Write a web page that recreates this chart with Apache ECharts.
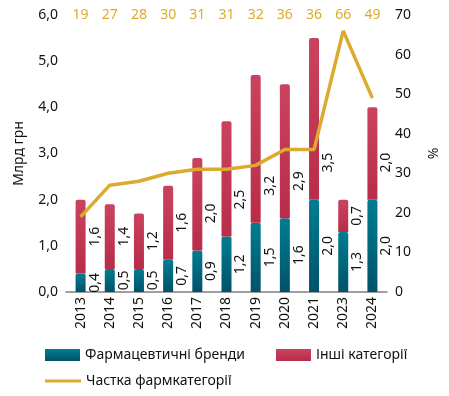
<!DOCTYPE html>
<html><head><meta charset="utf-8">
<script src="https://cdn.jsdelivr.net/npm/echarts@6/dist/echarts.min.js"></script>
<style>html,body{margin:0;padding:0;background:#fff}#c{width:449px;height:396px}</style>
</head><body><div id="c"></div>
<script>
const years = ['2013','2014','2015','2016','2017','2018','2019','2020','2021','2023','2024'];
const pharmaBrands = [0.4,0.5,0.5,0.7,0.9,1.2,1.5,1.6,2.0,1.3,2.0];
const otherCategories = [1.6,1.4,1.2,1.6,2.0,2.5,3.2,2.9,3.5,0.7,2.0];
const pharmaShare = [19,27,28,30,31,31,32,36,36,66,49];
const leftTicks = {min:0,max:6,interval:1};
const rightTicks = {min:0,max:70,interval:10};

const FONT = 'Noto Sans';
const fmt = v => Number(v).toFixed(1).replace('.', ',');
const chart = echarts.init(document.getElementById('c'));
const teal = new echarts.graphic.LinearGradient(0,0,0,1,[{offset:0,color:'#007d92'},{offset:1,color:'#005269'}]);
const red = new echarts.graphic.LinearGradient(0,0,0,1,[{offset:0,color:'#c9435f'},{offset:1,color:'#b92c4a'}]);
const gold = '#dcaa2e';
const lblBase = {show:true,position:'right',distance:2,rotate:90,align:'center',verticalAlign:'top',
  color:'#111',fontSize:14,fontFamily:FONT,formatter:p=>fmt(p.value)};

function build(otherOffsets){
  return {
    animation:false,
    textStyle:{fontFamily:FONT},
    grid:{left:66,right:59,top:15,bottom:104,containLabel:false},
    legend:[
      {data:['Фармацевтичні бренди','Інші категорії'],left:45,top:348,padding:0,itemGap:31,
       icon:'rect',itemWidth:35,itemHeight:12,textStyle:{fontSize:14,fontFamily:FONT,color:'#111'}},
      {data:['Частка фармкатегорії'],left:45,top:374,padding:0,icon:'rect',itemWidth:36,itemHeight:3,
       textStyle:{fontSize:14,fontFamily:FONT,color:'#111'}}
    ],
    xAxis:[
      {type:'category',data:years,axisTick:{show:false},
       axisLine:{lineStyle:{color:'#808080',width:1.5}},
       axisLabel:{rotate:90,margin:5,fontSize:14,fontFamily:FONT,color:'#111'}},
      {type:'category',data:years,position:'top',axisTick:{show:false},axisLine:{show:false},
       axisLabel:{margin:0,verticalAlign:'middle',fontSize:14,fontFamily:FONT,color:gold,
         formatter:(v,i)=>String(pharmaShare[i])}}
    ],
    yAxis:[
      {type:'value',min:leftTicks.min,max:leftTicks.max,interval:leftTicks.interval,
       name:'Млрд грн',nameLocation:'middle',nameGap:40,
       nameTextStyle:{fontSize:14,fontFamily:FONT,color:'#111'},
       splitLine:{show:false},axisLine:{show:false},axisTick:{show:false},
       axisLabel:{margin:8,fontSize:14,fontFamily:FONT,color:'#111',formatter:v=>fmt(v)}},
      {type:'value',min:rightTicks.min,max:rightTicks.max,interval:rightTicks.interval,
       name:'%',nameLocation:'middle',nameGap:40,nameRotate:90,
       nameTextStyle:{fontSize:14,fontFamily:FONT,color:'#111'},
       splitLine:{show:false},axisLine:{show:false},axisTick:{show:false},
       axisLabel:{margin:8,fontSize:14,fontFamily:FONT,color:'#111'}}
    ],
    series:[
      {name:'Фармацевтичні бренди',type:'bar',stack:'s',barWidth:10,
       itemStyle:{color:teal,borderRadius:[2,2,0,0]},label:lblBase,data:pharmaBrands},
      {name:'Інші категорії',type:'bar',stack:'s',barWidth:10,
       itemStyle:{color:red,borderRadius:[2,2,0,0]},label:lblBase,
       data:otherCategories.map((v,i)=>({value:v,label:{offset:[otherOffsets?-otherOffsets[i]:0,0]}}))},
      {name:'Частка фармкатегорії',type:'line',yAxisIndex:1,symbol:'none',z:5,
       lineStyle:{color:gold,width:3.5},itemStyle:{color:gold},data:pharmaShare}
    ]
  };
}
chart.setOption(build(null));
const pxPerUnit = chart.convertToPixel({yAxisIndex:0},0) - chart.convertToPixel({yAxisIndex:0},1);
const offsets = otherCategories.map(v=>{const h=v*pxPerUnit; return Math.max(0,h/2-37);});
chart.setOption(build(offsets));
</script></body></html>
